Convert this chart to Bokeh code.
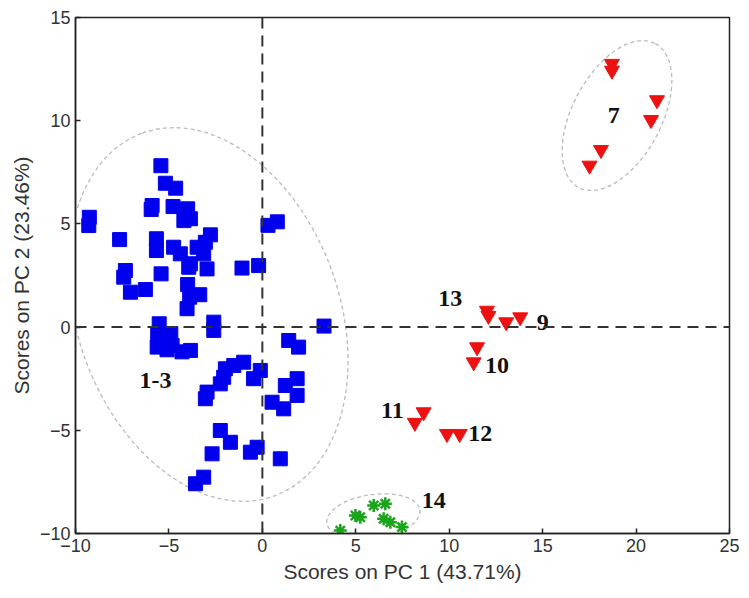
from bokeh.plotting import figure
from bokeh.models import Range1d, Span, FixedTicker, ColumnDataSource
from bokeh.embed import file_html
from bokeh.resources import INLINE
from bokeh.core.properties import value
import math

# ---- data ----
group13_x = [-5.43, -5.19, -4.64, -5.90, -5.95, -4.78, -4.00, -3.85, -4.20, -9.26, -9.29,
             -7.64, -5.67, -5.67, -2.78, -3.05, -4.75, -4.39, -3.49, -3.14, -3.85, -2.96,
             -3.94, -7.33, -7.42, -7.06, -6.26, -5.42, -4.00, -3.89, -3.35, -4.03, -1.09,
             -0.20, 0.30, 0.80, -5.52, -2.60, -2.60, -5.60, -4.90, -5.46, -5.63, -4.83,
             -3.85, 1.41, 1.94, 3.30, -1.00, -1.53, -1.98, -2.07, -2.25, -2.96, -3.05,
             -0.11, -0.47, 1.86, 1.23, 1.86, 0.52, 1.14, -2.25, -1.71, -2.69, -0.28,
             -0.64, 0.96, -3.14, -3.58, -4.30, -5.10]
group13_y = [7.82, 6.97, 6.73, 5.89, 5.70, 5.84, 5.73, 5.25, 5.16, 5.32, 4.92,
             4.24, 4.28, 3.71, 4.47, 4.11, 3.87, 3.55, 3.87, 3.55, 3.07, 2.82,
             2.90, 2.74, 2.42, 1.69, 1.82, 2.58, 2.06, 1.45, 1.57, 0.89, 2.86,
             2.98, 4.93, 5.10, 0.16, 0.24, -0.16, -0.31, -0.31, -0.81, -0.97, -0.89,
             -1.13, -0.65, -0.97, 0.05, -1.70, -1.86, -2.02, -2.43, -2.75, -3.15, -3.47,
             -2.10, -2.50, -2.50, -2.83, -3.31, -3.64, -3.96, -5.01, -5.58, -6.14, -5.82,
             -6.06, -6.38, -7.27, -7.59, -1.20, -1.10]

tri_x = [18.71, 18.71, 21.12, 20.80, 18.12, 17.51,
         12.02, 12.10, 13.05, 13.80, 11.49, 11.31,
         8.63, 8.16, 9.88, 10.56]
tri_y = [12.76, 12.43, 11.00, 10.04, 8.59, 7.83,
         0.80, 0.55, 0.24, 0.48, -0.97, -1.70,
         -4.12, -4.63, -5.17, -5.17]

star_x = [4.17, 4.98, 5.24, 5.96, 6.58, 6.49, 6.85, 7.47]
star_y = [-9.86, -9.13, -9.21, -8.64, -8.56, -9.29, -9.45, -9.69]

label_text = ["1-3", "7", "13", "9", "10", "11", "12", "14"]
label_x = [-5.72, 18.80, 10.06, 15.00, 12.56, 6.96, 11.66, 9.17]
label_y = [-2.60, 10.25, 1.37, 0.24, -1.86, -4.05, -5.17, -8.40]

# confidence ellipses: centre (data), axes (screen px), angle (deg)
ell_x = [-2.89, 18.98, 5.94]
ell_y = [0.61, 10.25, -9.18]
ell_w = [386, 163, 94]
ell_h = [262, 89, 44]
ell_ang = [110, 62, 8]

x_ticks = [-10, -5, 0, 5, 10, 15, 20, 25]
y_ticks = [-10, -5, 0, 5, 10, 15]

# ---- figure ----
p = figure(width=745, height=590, output_backend="svg", toolbar_location=None,
           x_range=Range1d(-10, 25), y_range=Range1d(-10, 15),
           min_border_left=75, min_border_right=16, min_border_top=17, min_border_bottom=57)
p.grid.visible = False
p.outline_line_color = "#222222"
p.outline_line_width = 1.5
p.background_fill_color = "white"
p.border_fill_color = "white"

p.ellipse(x=ell_x, y=ell_y, width=ell_w, height=ell_h,
          width_units="screen", height_units="screen",
          angle=[math.radians(a) for a in ell_ang],
          fill_color=None, line_color="#bbbbbb", line_dash="4 3", line_width=1.3)

p.add_layout(Span(location=0, dimension="width", line_color="#333333",
                  line_dash="11 7", line_width=2))
p.add_layout(Span(location=0, dimension="height", line_color="#333333",
                  line_dash="11 7", line_width=2))

p.scatter(group13_x, group13_y, marker="square", size=14, fill_color="#0000ee",
          line_color="#0000ee")
p.scatter(tri_x, tri_y, marker="inverted_triangle", size=15, fill_color="#ee1111",
          line_color="#ee1111")
p.scatter(star_x, star_y, marker="asterisk", size=13, line_color="#1aa51a", line_width=2.5)
p.scatter(star_x, star_y, marker="circle", size=5, fill_color="#1aa51a", line_color="#1aa51a")

src = ColumnDataSource(dict(x=label_x, y=label_y, t=label_text))
p.text(x="x", y="y", text="t", source=src, text_font=value("Liberation Serif"),
       text_font_style="bold", text_font_size="24px", text_align="center",
       text_baseline="middle", text_color="#111111")

for ax in (p.xaxis, p.yaxis):
    ax.axis_line_color = "#222222"
    ax.axis_line_width = 1.5
    ax.major_tick_in = 5
    ax.major_tick_out = 0
    ax.minor_tick_line_color = None
    ax.major_tick_line_color = "#222222"
    ax.major_tick_line_width = 1.5
    ax.major_label_text_font = "Liberation Sans"
    ax.major_label_text_font_size = "18px"
    ax.major_label_text_color = "#333333"
    ax.axis_label_text_font = "Liberation Sans"
    ax.axis_label_text_font_size = "21px"
    ax.axis_label_text_font_style = "normal"
    ax.axis_label_text_color = "#333333"

p.xaxis.ticker = FixedTicker(ticks=x_ticks)
p.yaxis.ticker = FixedTicker(ticks=y_ticks)
p.xaxis.axis_label = "Scores on PC 1 (43.71%)"
p.yaxis.axis_label = "Scores on PC 2 (23.46%)"
p.xaxis.major_label_standoff = 5
p.yaxis.major_label_standoff = 5
p.xaxis.axis_label_standoff = 5
p.yaxis.axis_label_standoff = 4

open("out.html", "w").write(file_html(p, INLINE))
